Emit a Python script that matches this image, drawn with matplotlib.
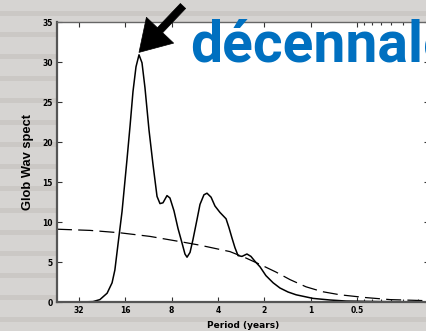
import numpy as np
import matplotlib
matplotlib.use("Agg")
import matplotlib.pyplot as plt

# Global wavelet spectrum vs period (years)
period = [42.5, 31.5, 25.95, 23.4, 21.0, 19.5, 18.7, 17.85, 16.8, 15.6, 14.9,
          14.26, 13.63, 13.03, 12.46, 11.92, 11.22, 10.57, 9.95, 9.52, 9.10,
          8.57, 8.20, 7.72, 7.27, 6.85, 6.55, 6.35, 6.07, 5.81, 5.47, 5.23,
          4.93, 4.71, 4.43, 4.18, 3.88, 3.54, 3.39, 3.24, 3.10, 2.96, 2.79,
          2.59, 2.44, 2.30, 2.13, 1.95, 1.75, 1.58, 1.40, 1.24, 0.963, 0.747,
          0.588, 0.353, 0.167]
glob_spec = [0.0, 0.0, 0.05, 0.3, 1.1, 2.4, 4.0, 7.2, 11.3, 17.8, 22.0,
             26.3, 29.4, 30.9, 29.9, 26.8, 21.5, 17.2, 13.2, 12.3, 12.4,
             13.3, 13.0, 11.4, 9.2, 7.4, 6.0, 5.6, 6.2, 7.8, 10.3, 12.2,
             13.4, 13.6, 13.1, 12.0, 11.2, 10.4, 9.3, 8.0, 6.8, 5.8, 5.7,
             6.0, 5.7, 5.1, 4.4, 3.3, 2.4, 1.75, 1.25, 0.9, 0.45, 0.25,
             0.12, 0.05, 0.02]

# red-noise reference spectrum (dashed)
noise_period = [44.5, 27.1, 17.3, 11.06, 7.06, 5.23, 4.30, 3.34, 2.63, 2.13,
                1.68, 1.36, 1.07, 0.842, 0.643, 0.436, 0.304, 0.167]
noise_spec = [9.1, 8.95, 8.65, 8.2, 7.55, 7.1, 6.75, 6.3, 5.5, 4.7,
              3.75, 2.8, 1.9, 1.3, 0.9, 0.55, 0.3, 0.15]

xticks = [32, 16, 8, 4, 2, 1, 0.5]
xticklabels = ["32", "16", "8", "4", "2", "1", "0.5"]
xminor = [0.45, 0.4, 0.35, 0.3, 0.25, 0.2]
yticks = [0, 5, 10, 15, 20, 25, 30, 35]

W, H = 426, 331
fig = plt.figure(figsize=(W / 100, H / 100), dpi=100)
fig.patch.set_facecolor("#d6d4d2")

# striped gray backdrop
bg = fig.add_axes([0, 0, 1, 1], zorder=0)
bg.set_xlim(0, W)
bg.set_ylim(H, 0)
bg.axis("off")
for y0 in np.arange(10.5, H, 21.9):
    bg.axhspan(y0, y0 + 5, color="#cbc8c5", lw=0)

ax = fig.add_axes([57 / W, 29 / H, (428.5 - 57) / W, 280 / H], zorder=1)
ax.set_facecolor("white")
ax.plot(period, glob_spec, color="black", lw=1.1)
ax.plot(noise_period, noise_spec, color="black", lw=0.9, dashes=(12, 5))

ax.set_xscale("log", base=2)
ax.set_xlim(44.47, 0.171)
ax.set_ylim(0, 35)
ax.set_xticks(xticks)
ax.set_xticklabels(xticklabels)
ax.set_xticks(xminor, minor=True)
ax.set_xticklabels([], minor=True)
ax.set_yticks(yticks)
ax.tick_params(which="both", direction="in", top=True, right=True,
               width=0.8, colors="#333333", labelcolor="black")
ax.tick_params(which="major", length=3.5, pad=3)
ax.tick_params(which="minor", length=2.5)
for lab in ax.get_xticklabels() + ax.get_yticklabels():
    lab.set_fontsize(5.5)
    lab.set_fontweight("bold")

for side in ("left", "bottom"):
    ax.spines[side].set_linewidth(1.6)
    ax.spines[side].set_color("#555555")
ax.spines["top"].set_linewidth(1.0)
ax.spines["top"].set_color("#666666")

ax.set_xlabel("Period (years)", fontsize=6.5, fontweight="bold", labelpad=4)
ax.set_ylabel("Glob Wav spect", fontsize=9.3, fontweight="bold",
              family="Liberation Sans", labelpad=6)

# arrow pointing at the main peak
ipk = int(np.argmax(glob_spec))
ax.annotate("", xy=(period[ipk], glob_spec[ipk] + 0.3), xytext=(183, H - 6),
            textcoords="figure pixels", annotation_clip=False,
            arrowprops=dict(arrowstyle="simple,head_length=1.1,head_width=1.35,tail_width=0.26",
                            mutation_scale=20, fc="black", ec="black", lw=0.5,
                            shrinkA=0, shrinkB=0))

fig.text(190 / W, (H - 62) / H, "décennale", fontsize=41, fontweight="bold",
         family="Roboto", color="#0070c0", va="baseline", ha="left", zorder=5)

fig.savefig("out.png", dpi=100, facecolor=fig.get_facecolor())
